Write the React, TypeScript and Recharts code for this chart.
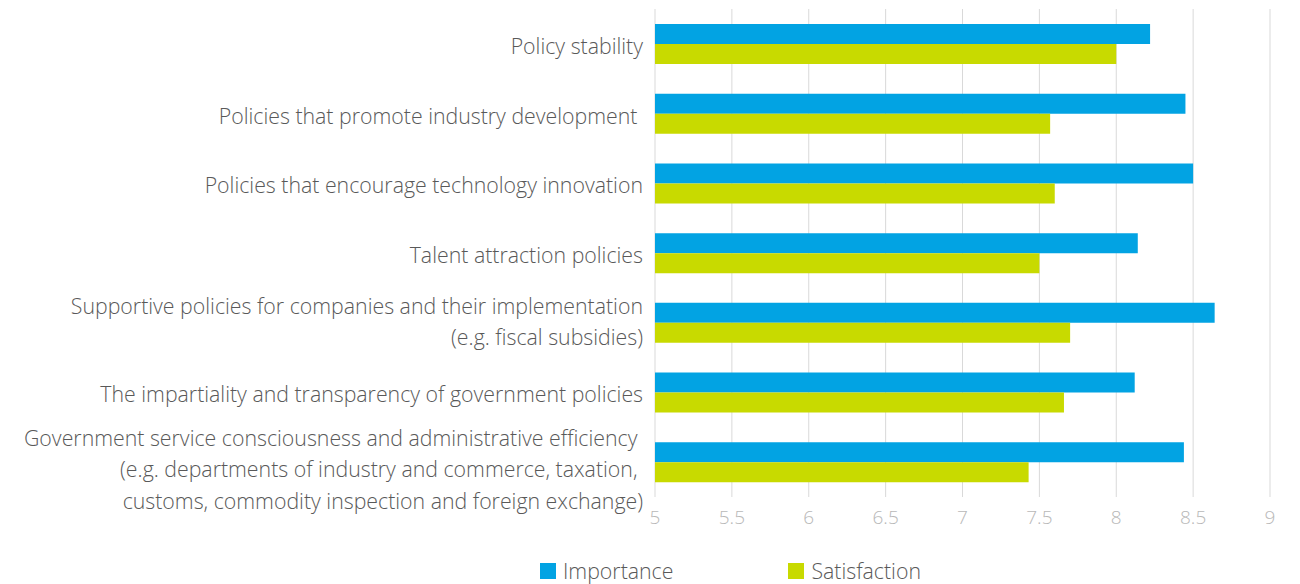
import { Bar, BarChart, CartesianGrid, XAxis, YAxis } from "recharts";

// ─── Data ─────────────────────────────────────────────────────────────────────
const categories = [
  "Policy stability",
  "Policies that promote industry development ",
  "Policies that encourage technology innovation",
  "Talent attraction policies",
  "Supportive policies for companies and their implementation\n(e.g. fiscal subsidies)",
  "The impartiality and transparency of government policies",
  "Government service consciousness and administrative efficiency \n(e.g. departments of industry and commerce, taxation, \ncustoms, commodity inspection and foreign exchange)",
];
const importance = [8.22, 8.45, 8.5, 8.14, 8.64, 8.12, 8.44];
const satisfaction = [8.0, 7.57, 7.6, 7.5, 7.7, 7.66, 7.43];
const xTicks = [5, 5.5, 6, 6.5, 7, 7.5, 8, 8.5, 9];
const seriesNames = ["Importance", "Satisfaction"];

const COLORS = {
  importance: "#02a3e3",
  satisfaction: "#c8da00",
  label: "#595959",
  tick: "#b8b8b8",
  grid: "#d9d9d9",
} as const;

const FONT = "'Open Sans', 'Noto Sans', sans-serif";

const chartData = categories.map((name, i) => ({
  name,
  importance: importance[i],
  satisfaction: satisfaction[i],
}));

// ─── Multi-line category label ────────────────────────────────────────────────
function CategoryTick({ x, y, payload }: any) {
  const lines = String(payload.value).split("\n");
  const lineH = 31.5;
  // single lines sit a little below the bar pair, 3-line label a bit lower too
  const shift = lines.length === 1 ? 3 : lines.length > 2 ? 8 : 0;
  const start = -((lines.length - 1) / 2) * lineH + shift;
  return (
    <text
      x={x}
      y={y}
      textAnchor="end"
      fill={COLORS.label}
      fontFamily={FONT}
      fontWeight={300}
      fontSize={21.3}
      style={{ whiteSpace: "pre" }}
    >
      {lines.map((line, i) => (
        <tspan key={i} x={x} dy={i === 0 ? start + 7 : lineH}>
          {line}
        </tspan>
      ))}
    </text>
  );
}

// ─── Legend (HTML, under the chart) ───────────────────────────────────────────
function ChartLegend() {
  const colors = [COLORS.importance, COLORS.satisfaction];
  return (
    <div
      style={{
        position: "absolute",
        left: 540,
        top: 559,
        display: "flex",
        gap: 115,
        fontFamily: FONT,
        fontWeight: 300,
      }}
    >
      {seriesNames.map((label, i) => (
        <div key={label} style={{ display: "flex", alignItems: "center", gap: 7 }}>
          <span style={{ width: 16, height: 16, background: colors[i], display: "inline-block" }} />
          <span style={{ fontSize: 21.3, color: COLORS.label, lineHeight: "24px" }}>{label}</span>
        </div>
      ))}
    </div>
  );
}

export default function App() {
  return (
    <div style={{ position: "absolute", left: 0, top: 0, width: 1300, height: 584, background: "#fff" }}>
      <BarChart
        width={1300}
        height={584}
        data={chartData}
        layout="vertical"
        margin={{ top: 9, right: 30, bottom: 47, left: 0 }}
        barCategoryGap={15}
        barGap={0}
      >
        <CartesianGrid horizontal={false} stroke={COLORS.grid} />
        <XAxis
          type="number"
          domain={[5, 9]}
          ticks={xTicks}
          allowDataOverflow
          axisLine={false}
          tickLine={false}
          tickMargin={8}
          height={40}
          tick={{ fill: COLORS.tick, fontSize: 19, fontFamily: FONT, fontWeight: 300 }}
        />
        <YAxis
          type="category"
          dataKey="name"
          width={655}
          axisLine={false}
          tickLine={false}
          tickSize={0}
          tickMargin={12}
          interval={0}
          tick={<CategoryTick />}
        />
        <Bar
          dataKey="importance"
          name={seriesNames[0]}
          fill={COLORS.importance}
          barSize={20}
          isAnimationActive={false}
        />
        <Bar
          dataKey="satisfaction"
          name={seriesNames[1]}
          fill={COLORS.satisfaction}
          barSize={20}
          isAnimationActive={false}
        />
      </BarChart>
      <ChartLegend />
    </div>
  );
}
